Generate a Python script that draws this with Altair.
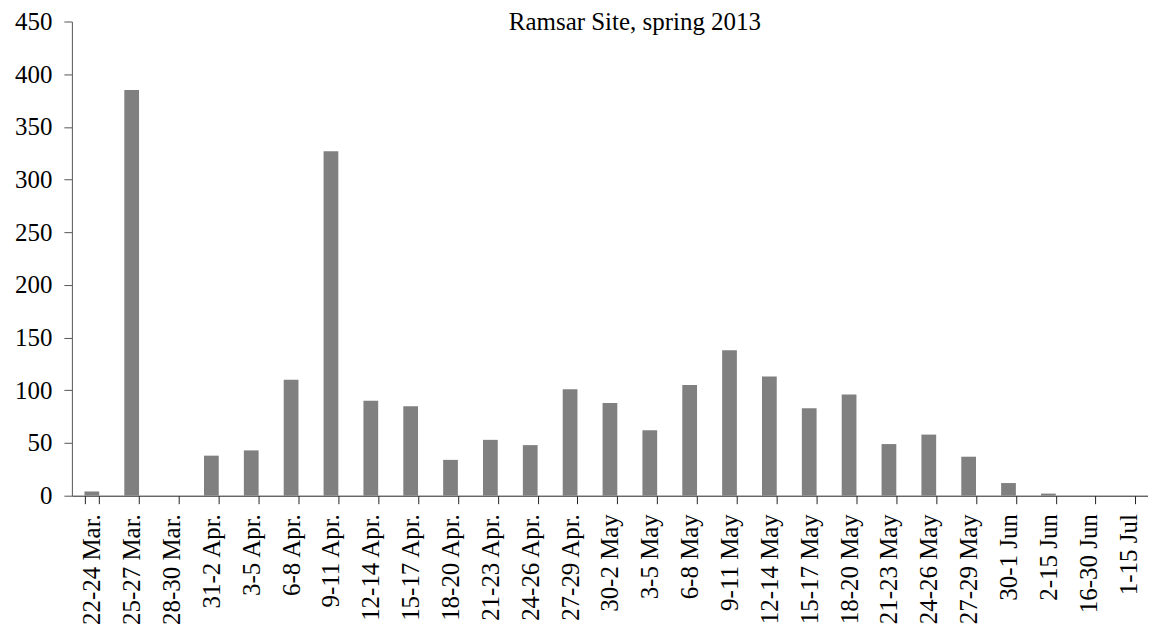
import altair as alt
import pandas as pd

categories = ["22-24 Mar.", "25-27 Mar.", "28-30 Mar.", "31-2 Apr.", "3-5 Apr.", "6-8 Apr.",
              "9-11 Apr.", "12-14 Apr.", "15-17 Apr.", "18-20 Apr.", "21-23 Apr.", "24-26 Apr.",
              "27-29 Apr.", "30-2 May", "3-5 May", "6-8 May", "9-11 May", "12-14 May",
              "15-17 May", "18-20 May", "21-23 May", "24-26 May", "27-29 May", "30-1 Jun",
              "2-15 Jun", "16-30 Jun", "1-15 Jul"]
values = [4, 385, 0, 38, 43, 110, 327, 90, 85, 34, 53, 48, 101, 88, 62, 105, 138, 113,
          83, 96, 49, 58, 37, 12, 2, 0, 0]
title_text = ["Ramsar Site, spring 2013"]
y_ticks = [0, 50, 100, 150, 200, 250, 300, 350, 400, 450]

df = pd.DataFrame({"period": categories, "count": values})
FONT = "Liberation Serif"

bars = alt.Chart(df).mark_bar(color="#808080").encode(
    x=alt.X("period:N", sort=categories, title=None,
            scale=alt.Scale(paddingInner=0.63, paddingOuter=0.315),
            axis=alt.Axis(labelAngle=-90, labelAlign="right", labelBaseline="middle",
                          labelFont=FONT, labelFontSize=25, labelColor="black",
                          labelPadding=10, tickBand="extent", tickSize=8,
                          tickColor="#222222", domainColor="#222222",
                          labelOverlap=False, grid=False)),
    y=alt.Y("count:Q", title=None,
            scale=alt.Scale(domain=[0, 450], nice=False),
            axis=alt.Axis(values=y_ticks, labelFont=FONT, labelFontSize=25,
                          labelColor="black", labelPadding=12, tickSize=8,
                          tickColor="#555555", domainColor="#555555", grid=False)),
)

title = alt.Chart(pd.DataFrame({"t": title_text})).mark_text(
    font=FONT, fontSize=25, color="black", baseline="alphabetic", align="center"
).encode(text="t:N", x=alt.value(564), y=alt.value(8))

chart = alt.layer(bars, title).properties(
    width=1078, height=475,
    background="white",
    autosize=alt.AutoSizeParams(type="none"),
    padding={"left": 64, "top": 13, "right": 0, "bottom": 136},
).configure_view(stroke=None)

chart.save("out.html", embed_options={"renderer": "svg", "actions": False})
